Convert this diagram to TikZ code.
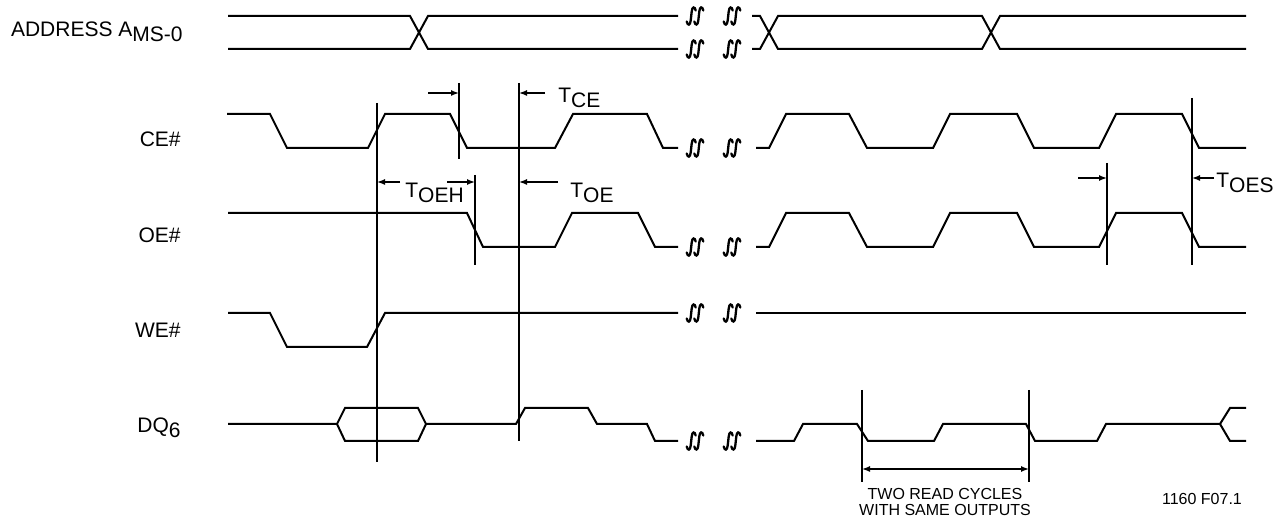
\documentclass[tikz,border=0pt]{standalone}
\usepackage{fontspec}
\setmainfont{Liberation Sans}
\usepackage{tikz}
\usetikzlibrary{arrows.meta}
\newcommand{\lowsub}[1]{\raisebox{-2.2pt}{#1}}
\tikzset{
  sig/.style={line width=1pt, line join=miter},
  guide/.style={line width=0.75pt},
  tarr/.style={-{Latex[length=4pt,width=3pt]}, line width=0.7pt},
  lbl/.style={anchor=base east, inner sep=0pt, font=\fontsize{10.5}{12}\selectfont},
  tlbl/.style={anchor=base west, inner sep=0pt, font=\fontsize{10.5}{12}\selectfont},
  note/.style={anchor=base, inner sep=0pt, font=\fontsize{8}{10}\selectfont},
  squig/.style={line width=1.15pt, line cap=round},
  brk/.pic={
    \foreach \cx in {-3.8,3.8}
      \draw[squig] (\cx-4.5,5.5) .. controls (\cx-3.5,10) and (\cx-1,9.5) .. (\cx-0.5,4.5)
        -- (\cx+0.5,-4.5) .. controls (\cx+1,-9.5) and (\cx+3.5,-10) .. (\cx+4.5,-5.5);
  },
}

\begin{document}
\begin{tikzpicture}[x=0.5pt, y=-0.5pt]
  \useasboundingbox (0,0) rectangle (1274,517);

  % signal names
  \node[lbl] (addr) at (183,37) {ADDRESS A\lowsub{MS-0}};
  \node[lbl] (ce) at (181,147) {CE\#};
  \node[lbl] (oe) at (181,243) {OE\#};
  \node[lbl] (we) at (181,338) {WE\#};
  \node[lbl] (dq) at (181,433) {DQ\lowsub{6}};

  % address
  \draw[sig] (228,16) -- (410,16) -- (428,49) -- (678,49);
  \draw[sig] (228,49) -- (410,49) -- (428,16) -- (678,16);
  \draw[sig] (752,16) -- (760,16) -- (778,49) -- (982,49) -- (1000,16) -- (1246,16);
  \draw[sig] (752,49) -- (760,49) -- (778,16) -- (982,16) -- (1000,49) -- (1246,49);

  % CE#
  \draw[sig] (227,114) -- (270,114) -- (287,148) -- (368,148) -- (385,114) -- (450,114)
    -- (467,148) -- (555,148) -- (573,114) -- (647,114) -- (663,148) -- (678,148);
  \draw[sig] (756,148) -- (769,148) -- (786,114) -- (849,114) -- (867,148) -- (933,148)
    -- (950,114) -- (1017,114) -- (1034,148) -- (1099,148) -- (1116,114) -- (1182,114)
    -- (1199,148) -- (1246,148);

  % OE#
  \draw[sig] (228,213) -- (467,213) -- (483,247) -- (555,247) -- (572,213) -- (638,213)
    -- (655,247) -- (678,247);
  \draw[sig] (756,247) -- (769,247) -- (786,213) -- (849,213) -- (867,247) -- (933,247)
    -- (950,213) -- (1017,213) -- (1034,247) -- (1099,247) -- (1116,213) -- (1182,213)
    -- (1199,247) -- (1246,247);

  % WE#
  \draw[sig] (228,313) -- (270,313) -- (287,347) -- (367,347) -- (385,313) -- (678,313);
  \draw[sig] (756,313) -- (1246,313);

  % DQ6
  \draw[sig] (228,424) -- (337,424) -- (345,408) -- (418,408) -- (426,424) -- (516,424)
    -- (525,408) -- (588,408) -- (597,424) -- (647,424) -- (655,441) -- (678,441);
  \draw[sig] (337,424) -- (345,441) -- (418,441) -- (426,424);
  \draw[sig] (756,441) -- (794,441) -- (803,424) -- (857,424) -- (868,441) -- (934,441)
    -- (943,424) -- (1026,424) -- (1035,441) -- (1097,441) -- (1106,424) -- (1220,424)
    -- (1230,408) -- (1246,408);
  \draw[sig] (1220,424) -- (1230,441) -- (1246,441);

  % breaks
  \foreach \y in {16,49,148,247,313,441} {
    \pic at (695,\y) {brk};
    \pic at (732,\y) {brk};
  }

  % timing guides
  \coordinate (a1) at (377,103);  \coordinate (a2) at (377,462);
  \coordinate (b1) at (459,83);   \coordinate (b2) at (459,159);
  \coordinate (c1) at (519,83);   \coordinate (c2) at (519,441);
  \coordinate (d1) at (475,175);  \coordinate (d2) at (475,265);
  \coordinate (e1) at (1192,98);  \coordinate (e2) at (1192,265);
  \coordinate (f1) at (1107,163); \coordinate (f2) at (1107,265);
  \coordinate (g1) at (862,390);  \coordinate (g2) at (862,482);
  \coordinate (h1) at (1029,390); \coordinate (h2) at (1029,482);
  \foreach \g in {a,b,c,d,e,f,g,h}
    \draw[guide] (\g1) -- (\g2);

  % timing arrows
  \draw[tarr] (428,93) -- (b1 |- 0,93);
  \draw[tarr] (545,93) -- (c1 |- 0,93);
  \draw[tarr] (400,182) -- (a1 |- 0,182);
  \draw[tarr] (447,182) -- (d1 |- 0,182);
  \draw[tarr] (558,182) -- (c1 |- 0,182);
  \draw[tarr] (1078,178) -- (f1 |- 0,178);
  \draw[tarr] (1214,178) -- (e1 |- 0,178);
  \draw[tarr, {Latex[length=4pt,width=3pt]}-{Latex[length=4pt,width=3pt]}]
    (g1 |- 0,469) -- (h1 |- 0,469);

  \node[tlbl] (tce) at (558,103) {T\lowsub{CE}};
  \node[tlbl] (toeh) at (405,198) {T\lowsub{OEH}};
  \node[tlbl] (toe) at (570,198) {T\lowsub{OE}};
  \node[tlbl] (toes) at (1216,188) {T\lowsub{OES}};

  \node[note] (cyc1) at (945,500) {TWO READ CYCLES};
  \node[note] (cyc2) at (945,516) {WITH SAME OUTPUTS};
  \node[note] (fig) at (1202,505) {1160 F07.1};
\end{tikzpicture}
\end{document}
